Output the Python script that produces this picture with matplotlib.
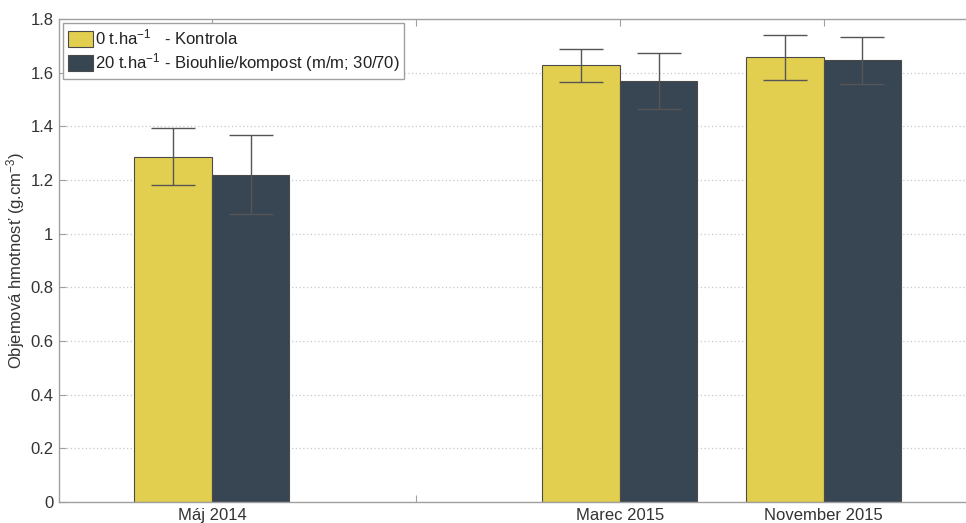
import matplotlib
matplotlib.use("Agg")
import matplotlib.pyplot as plt
import numpy as np

plt.rcParams['font.family'] = ['Liberation Sans', 'DejaVu Sans']
plt.rcParams['mathtext.fontset'] = 'custom'
plt.rcParams['mathtext.rm'] = 'Liberation Sans'
plt.rcParams['mathtext.it'] = 'Liberation Sans:italic'
plt.rcParams['mathtext.default'] = 'regular'

# Data
categories = ['Máj 2014', '', 'Marec 2015', 'November 2015']
control_mean = [1.287, np.nan, 1.628, 1.658]
control_err = [0.105, np.nan, 0.061, 0.084]
biochar_mean = [1.220, np.nan, 1.570, 1.646]
biochar_err = [0.146, np.nan, 0.105, 0.088]
series_labels = ['0 t.ha$^{-1}$   - Kontrola',
                 '20 t.ha$^{-1}$ - Biouhlie/kompost (m/m; 30/70)']
y_ticks = [0, 0.2, 0.4, 0.6, 0.8, 1.0, 1.2, 1.4, 1.6, 1.8]
y_ticklabels = ['0', '0.2', '0.4', '0.6', '0.8', '1', '1.2', '1.4', '1.6', '1.8']

W, H = 966, 523
fig = plt.figure(figsize=(W / 100, H / 100), dpi=100)
# plot box runs past the right edge of the canvas
x_left_px, x_right_px = 59, 997
ax = fig.add_axes([x_left_px / W, 21 / H, (x_right_px - x_left_px) / W, (502 - 19) / H])

x = np.arange(1, len(categories) + 1)
bw = 0.38
yellow = '#E3CF4F'
navy = '#384654'
edge = '#4a4a4a'

ax.set_axisbelow(True)
ax.yaxis.grid(True, linestyle=(0, (1, 2)), color='#c8c8c8', linewidth=0.9)

err_kw = dict(ecolor='#555555', elinewidth=1.0, capthick=1.0)
ax.bar(x - bw / 2, control_mean, bw, yerr=control_err, capsize=15.5,
       color=yellow, edgecolor=edge, linewidth=0.8, error_kw=err_kw,
       label=series_labels[0])
ax.bar(x + bw / 2, biochar_mean, bw, yerr=biochar_err, capsize=15.5,
       color=navy, edgecolor=edge, linewidth=0.8, error_kw=err_kw,
       label=series_labels[1])

ax.set_xlim(0.25, 4.85)
ax.set_ylim(0, 1.8)
ax.set_xticks(x)
ax.set_xticklabels(categories)
ax.set_yticks(y_ticks)
ax.set_yticklabels(y_ticklabels)

for s in ax.spines.values():
    s.set_color('#a0a0a0')
    s.set_linewidth(1.0)
ax.spines['right'].set_visible(False)
ax.tick_params(axis='both', direction='in', colors='#a0a0a0', labelcolor='#333333',
               labelsize=12, length=5, top=True, right=False)
ax.tick_params(axis='x', pad=4)
ax.tick_params(axis='y', pad=4)

ax.set_ylabel('Objemová hmotnosť (g.cm$^{-3}$)', fontsize=12, color='#333333')
ax.yaxis.set_label_coords(-(59 - 27) / (x_right_px - x_left_px), 0.5)

leg = ax.legend(loc='upper left', bbox_to_anchor=(63 / W, 1 - 23 / H),
                bbox_transform=fig.transFigure, borderaxespad=0,
                fontsize=12, fancybox=False, framealpha=1,
                handlelength=1.5, handleheight=1.1, handletextpad=0.1,
                labelspacing=0.2, borderpad=0.3)
leg.get_frame().set_edgecolor('#a0a0a0')
leg.get_frame().set_linewidth(1.0)
for t in leg.get_texts():
    t.set_color('#222222')

fig.savefig('out.png', dpi=100)
